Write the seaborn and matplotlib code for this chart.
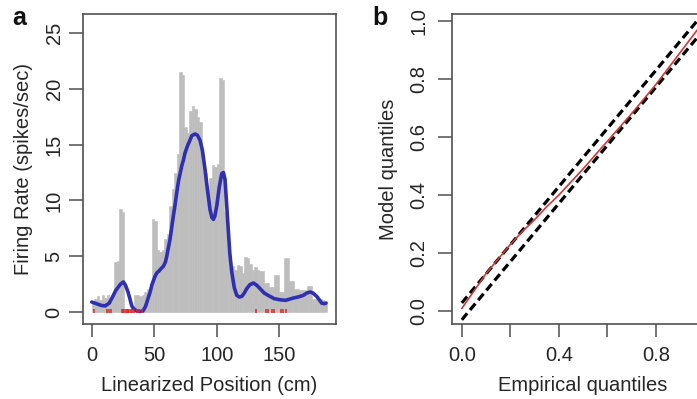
import numpy as np
import pandas as pd
import matplotlib
matplotlib.use("Agg")
import matplotlib.pyplot as plt
import seaborn as sns

# ---------------- data ----------------
# Panel a: occupancy-normalised firing-rate histogram (2 cm bins)
bin_edges = list(range(0, 190, 2))
bin_rates = [0.9, 1.2, 1.4, 1.1, 1.5, 1.3, 1.5, 1.0, 1.6, 4.5,
             4.6, 9.2, 9.0, 0.3, 0.2, 0.2, 0.3, 1.5, 1.5, 1.4,
             1.5, 1.8, 2.1, 2.0, 8.3, 8.2, 5.6, 5.4, 5.6, 6.5,
             7.0, 9.5, 11.0, 12.5, 14.2, 21.5, 21.2, 16.6, 16.0, 18.0,
             18.5, 18.2, 17.5, 17.0, 13.5, 12.5, 11.0, 12.0, 13.2, 13.0,
             13.3, 21.0, 20.8, 9.0, 6.8, 4.0, 4.1, 3.8, 4.2, 4.1,
             3.5, 4.9, 4.8, 4.3, 3.8, 4.0, 3.8, 3.7, 3.7, 2.6,
             2.6, 2.2, 2.2, 3.3, 3.3, 1.8, 1.8, 4.8, 4.8, 2.8,
             2.8, 2.1, 2.1, 2.0, 2.0, 2.0, 2.3, 2.3, 1.2, 1.2,
             1.2, 1.2, 1.1, 1.0]

# Panel a: model (smooth) firing-rate estimate
curve_pos = [0, 2.5, 5, 7.5, 10.7, 14, 17.3, 19, 21, 23, 25.3, 27, 29, 30.5, 32, 33.5,
             36, 38.5, 41, 43, 45, 47, 48, 50.6, 52, 54, 55.5, 57.3, 59, 60, 61, 62.6,
             64, 65, 66.5, 68, 69.5, 70.5, 72, 73.3, 74.5, 76, 77, 78.6, 80, 82.6,
             84.5, 86.6, 88.5, 90.6, 92.5, 94.6, 96, 97.3, 98.5, 100, 102, 103, 104,
             105.3, 106.6, 108, 109.3, 110.5, 112, 114, 116, 118, 120, 122, 124,
             126.5, 129.3, 132, 134.6, 138, 142.6, 146, 150.6, 155, 161, 165,
             169.3, 172, 174.6, 177, 180, 182, 184, 186, 187.4]
curve_rate = [0.9, 0.8, 0.7, 0.6, 0.55, 0.8, 1.5, 1.9, 2.2, 2.5, 2.7, 2.4, 1.8, 1.2, 0.55, 0.3,
              0.1, 0.05, 0.1, 0.5, 1.2, 1.9, 2.4, 3.2, 3.5, 3.7, 3.9, 4.1, 4.5, 5.0, 5.6, 6.5,
              7.6, 8.4, 9.5, 10.7, 11.8, 12.3, 13.1, 13.6, 14.2, 14.7, 15.0, 15.4, 15.8, 15.95,
              15.85, 15.4, 14.5, 12.8, 11.0, 9.2, 8.5, 8.3, 8.6, 9.5, 11.2, 11.8, 12.4,
              12.5, 11.9, 9.5, 7.2, 5.2, 3.6, 2.2, 1.5, 1.35, 1.4, 1.7, 2.1,
              2.45, 2.6, 2.4, 2.1, 1.7, 1.4, 1.2, 1.1, 1.05, 1.25, 1.35,
              1.5, 1.7, 1.8, 1.7, 1.4, 1.1, 0.8, 0.75, 0.8]

# Panel a: spike positions (rug)
spike_pos = [2, 12, 13.5, 15, 24, 25, 26, 27, 28, 29, 30, 31, 32, 34, 36, 38, 40,
             131, 139, 141, 144, 146, 151, 153, 155]

# Panel b: KS plot
emp_q = [0.0, 0.05, 0.1, 0.15, 0.2, 0.25, 0.3, 0.35, 0.4, 0.5, 0.6, 0.7, 0.8, 0.9, 1.0]
model_q = [0.01, 0.07, 0.13, 0.18, 0.23, 0.275, 0.315, 0.36, 0.40, 0.49, 0.585, 0.68, 0.78, 0.89, 1.0]
band_x = [0.0, 1.0]
band_upper = [0.029, 1.029]
band_lower = [-0.029, 0.971]

# ---------------- style ----------------
sns.set_style("white")
plt.rcParams['font.family'] = ['Liberation Sans', 'DejaVu Sans']
TXT = '#262626'
FRAME = '#505050'
plt.rcParams['text.color'] = TXT
plt.rcParams['axes.labelcolor'] = TXT
plt.rcParams['xtick.color'] = FRAME
plt.rcParams['ytick.color'] = FRAME
plt.rcParams['xtick.labelcolor'] = TXT
plt.rcParams['ytick.labelcolor'] = TXT

W, H = 697, 399
fig = plt.figure(figsize=(W / 100, H / 100), dpi=100)

top, bottom = 14, 324
ax1 = fig.add_axes([83 / W, (H - bottom) / H, (336 - 83) / W, (bottom - top) / H])
ax2 = fig.add_axes([452 / W, (H - bottom) / H, (714 - 452) / W, (bottom - top) / H])

FS = 14.5

def style_axes(ax, ypad):
    for s in ax.spines.values():
        s.set_visible(True)
        s.set_color(FRAME)
        s.set_linewidth(1.2)
    ax.tick_params(axis='x', direction='out', length=9, width=1.1, pad=7, labelsize=FS, bottom=True)
    ax.tick_params(axis='y', direction='out', length=10, width=1.1, pad=ypad, labelsize=FS,
                   left=True, labelrotation=90)
    for lab in ax.get_yticklabels():
        lab.set_va('center')

# ---------------- panel a ----------------
centers = [(bin_edges[i] + bin_edges[i + 1]) / 2 for i in range(len(bin_rates))]
sns.histplot(x=centers, weights=bin_rates, bins=bin_edges, ax=ax1,
             color='#bdbdbd', edgecolor='#bdbdbd', linewidth=0.4, alpha=1.0, element='bars')
sns.lineplot(x=curve_pos, y=curve_rate, ax=ax1, color='#2f2fb2', linewidth=2.6, sort=True)
ax1.scatter(spike_pos, [0.05] * len(spike_pos), marker='|', color='#e02828', s=9, linewidths=1.1, zorder=3)

ax1.set_xlim(-7, 195.4)
ax1.set_ylim(-1.07, 26.7)
ax1.set_xticks([0, 50, 100, 150])
ax1.set_xticklabels(['0', '50', '100', '150'])
ax1.set_yticks([0, 5, 10, 15, 20, 25])
ax1.set_yticklabels(['0', '5', '10', '15', '20', '25'])
ax1.set_xlabel('Linearized Position (cm)', fontsize=FS, labelpad=8)
ax1.set_ylabel('Firing Rate (spikes/sec)', fontsize=FS, labelpad=8)
style_axes(ax1, 4)

# ---------------- panel b ----------------
sns.lineplot(x=band_x, y=band_upper, ax=ax2, color='black', linewidth=2.3, linestyle=(0, (2.6, 1.4)))
sns.lineplot(x=band_x, y=band_lower, ax=ax2, color='black', linewidth=2.3, linestyle=(0, (2.6, 1.4)))
sns.lineplot(x=emp_q, y=model_q, ax=ax2, color='#cc3a3a', linewidth=1.2, sort=True)

ax2.set_xlim(-0.0405, 1.04)
ax2.set_ylim(-0.0435, 1.023)
ax2.set_xticks([0, 0.2, 0.4, 0.6, 0.8, 1.0])
ax2.set_xticklabels(['0.0', '', '0.4', '', '0.8', ''])
ax2.set_yticks([0, 0.2, 0.4, 0.6, 0.8, 1.0])
ax2.set_yticklabels(['0.0', '0.2', '0.4', '0.6', '0.8', '1.0'])
ax2.set_xlabel('Empirical quantiles', fontsize=FS, labelpad=8)
ax2.set_ylabel('Model quantiles', fontsize=FS, labelpad=8)
style_axes(ax2, 7)

fig.text(12 / W, 1 - 25 / H, 'a', fontsize=18, fontweight='bold', color='#111111')
fig.text(372 / W, 1 - 25 / H, 'b', fontsize=18, fontweight='bold', color='#111111')

fig.savefig('out.png', dpi=100)
